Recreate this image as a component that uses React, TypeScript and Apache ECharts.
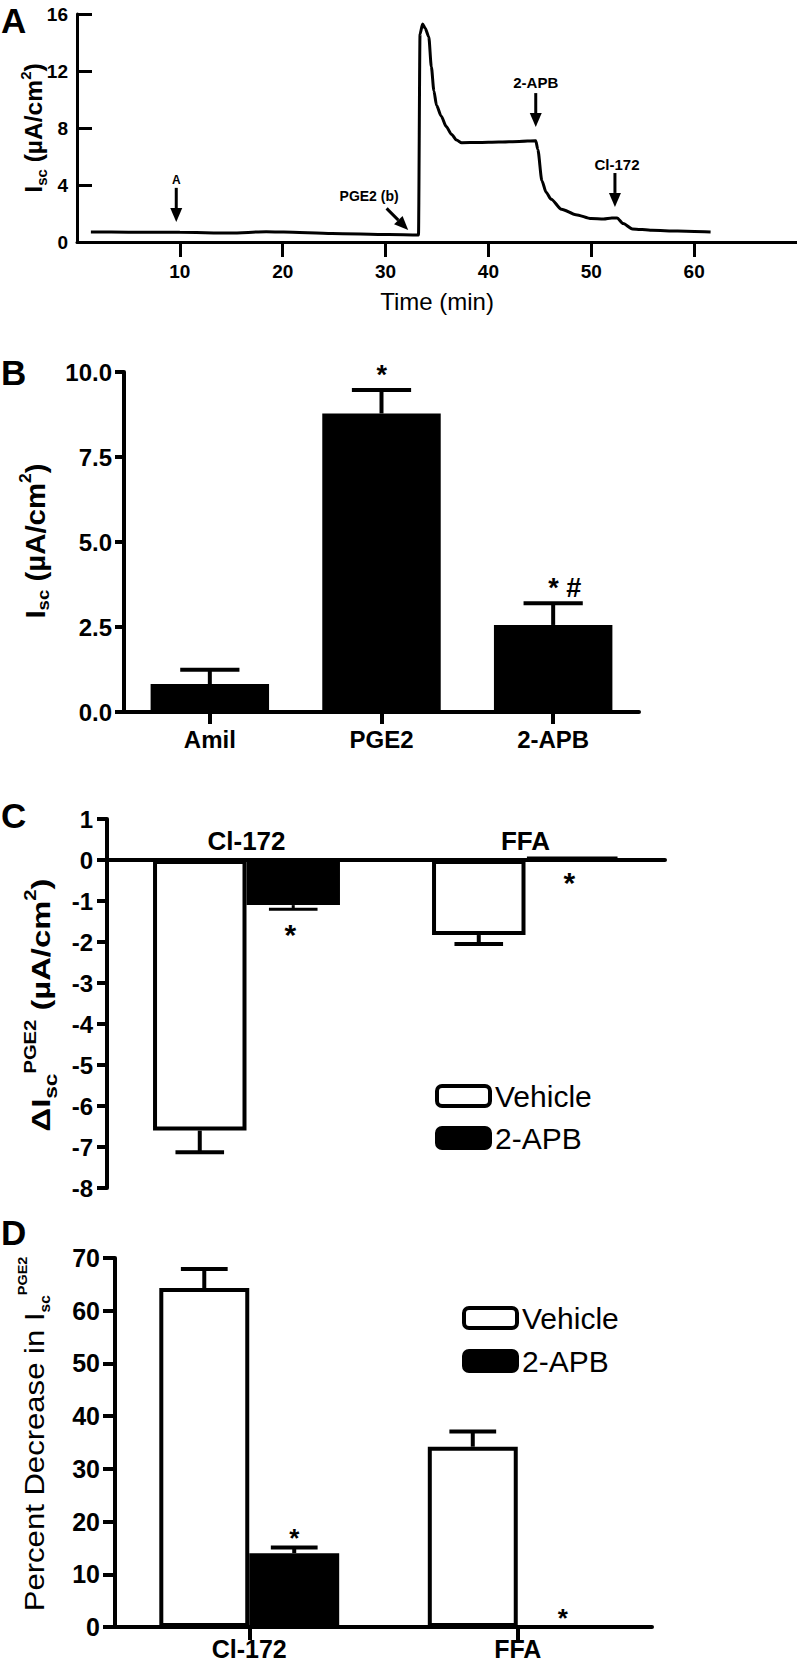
import React, { useEffect, useRef } from 'react';
import * as echarts from 'echarts';

const FONT = '"Liberation Sans", Arial, Helvetica, sans-serif';

// ---------- Panel A: Isc trace ----------
const traceTime = [1.35, 5, 10, 14.9, 18.4, 20.1, 24.8, 30.3, 33.2, 33.35, 33.6, 33.85, 34.2, 34.45, 34.7, 34.95, 35.4, 35.9, 36.4, 36.9, 37.4, 39, 41, 43, 44.6, 44.8, 45.2, 45.6, 46.1, 47.1, 48.5, 50.0, 51.2, 52.0, 52.5, 53.1, 54.0, 55.9, 58.4, 61.6];
const traceIsc = [0.70, 0.69, 0.68, 0.63, 0.72, 0.70, 0.60, 0.52, 0.49, 14.6, 15.3, 15.0, 14.4, 12.3, 10.6, 9.6, 8.85, 8.1, 7.56, 7.15, 6.97, 6.98, 7.02, 7.06, 7.1, 6.5, 4.3, 3.5, 3.0, 2.3, 1.92, 1.65, 1.62, 1.69, 1.69, 1.29, 0.92, 0.82, 0.77, 0.70];
const timeTicks = [10, 20, 30, 40, 50, 60];
const arrowLabels = ['A', 'PGE2 (b)', '2-APB', 'Cl-172'];
const arrowFrom = [[9.65, 3.8], [30.1, 2.36], [44.6, 10.45], [52.3, 4.84]];
const arrowTo = [[9.65, 1.4], [32.2, 0.84], [44.6, 8.07], [52.3, 2.46]];
const arrowLabelAt = [[9.65, 4.35], [28.4, 3.23], [44.6, 11.2], [52.5, 5.47]];

// ---------- Panel B ----------
const bCategories = ['Amil', 'PGE2', '2-APB'];
const bMean = [0.82, 8.78, 2.56];
const bSem = [0.42, 0.69, 0.64];
const bMarks = ['', '*', '* #'];

// ---------- Panels C & D ----------
const groupCategories = ['Cl-172', 'FFA'];
const cVehicleMean = [-6.6, -1.83];
const cVehicleSem = [0.53, 0.22];
const cApbMean = [-1.1, 0.07];
const cApbSem = [0.1, 0];
const cApbMarks = ['*', '*'];

const dVehicleMean = [64.3, 34.2];
const dVehicleSem = [3.6, 2.9];
const dApbMean = [14.0, 0];
const dApbSem = [1.1, 0];
const dApbMarks = ['*', '*'];

const legendNames = ['Vehicle', '2-APB'];

type ErrCfg = {
  nBars: number; slot: number; gap: number; capFrac: number; lw: number;
  markBelow: boolean; markGap: number; markSize: number; markAlign: string; markDx: number;
};

function errorRenderer(means: number[], sems: number[], marks: string[], cfg: ErrCfg) {
  return (params: any, api: any) => {
    const i = params.dataIndex;
    const cat = api.value(0);
    const band = api.size([1, 0])[0];
    const barW = (band * (1 - cfg.gap)) / cfg.nBars;
    const cx = api.coord([cat, 0])[0] + (cfg.slot - (cfg.nBars - 1) / 2) * barW;
    const mean = means[i];
    const sem = sems[i];
    const dir = mean < 0 ? -1 : 1;
    const yBar = api.coord([cat, mean])[1];
    const yEnd = api.coord([cat, mean + dir * sem])[1];
    const half = (barW * cfg.capFrac) / 2;
    const children: any[] = [];
    if (sem > 0) {
      children.push({ type: 'line', shape: { x1: cx, y1: yBar, x2: cx, y2: yEnd }, style: { stroke: '#000', lineWidth: cfg.lw } });
      children.push({ type: 'line', shape: { x1: cx - half, y1: yEnd, x2: cx + half, y2: yEnd }, style: { stroke: '#000', lineWidth: cfg.lw } });
    }
    const mark = marks[i];
    if (mark) {
      const ty = cfg.markBelow ? yEnd + cfg.markGap : yEnd - cfg.markGap;
      children.push({
        type: 'text', x: cx + cfg.markDx, y: ty,
        style: {
          text: mark, fill: '#000', font: `bold ${cfg.markSize}px ${FONT}`,
          align: cfg.markAlign, verticalAlign: 'middle', textAlign: cfg.markAlign, textVerticalAlign: 'middle',
        },
      });
    }
    return { type: 'group', children };
  };
}

// category labels of panel C sit just above the zero line
function zeroLabelRenderer(params: any, api: any) {
  const i = params.dataIndex;
  const p = api.coord([api.value(0), 0]);
  return {
    type: 'text', x: p[0], y: p[1] - 19,
    style: {
      text: groupCategories[i], fill: '#000', font: `bold 26px ${FONT}`,
      align: 'center', verticalAlign: 'middle', textAlign: 'center', textVerticalAlign: 'middle',
    },
  };
}

const annotationFontSizes = [12, 14, 15, 15];

function arrowRenderer(params: any, api: any) {
  const i = params.dataIndex;
  const p0 = api.coord([api.value(0), api.value(1)]);
  const p1 = api.coord([api.value(2), api.value(3)]);
  const pl = api.coord([api.value(4), api.value(5)]);
  const dx = p1[0] - p0[0];
  const dy = p1[1] - p0[1];
  const len = Math.hypot(dx, dy);
  const ux = dx / len, uy = dy / len;
  const headL = 14, headW = 6;
  const bx = p1[0] - ux * headL, by = p1[1] - uy * headL;
  const px = -uy, py = ux;
  return {
    type: 'group',
    children: [
      { type: 'line', shape: { x1: p0[0], y1: p0[1], x2: bx, y2: by }, style: { stroke: '#000', lineWidth: 3 } },
      { type: 'polygon', shape: { points: [[p1[0], p1[1]], [bx + px * headW, by + py * headW], [bx - px * headW, by - py * headW]] }, style: { fill: '#000' } },
      {
        type: 'text', x: pl[0], y: pl[1],
        style: {
          text: arrowLabels[i], fill: '#000', font: `bold ${annotationFontSizes[i]}px ${FONT}`,
          align: 'center', verticalAlign: 'middle', textAlign: 'center', textVerticalAlign: 'middle',
        },
      },
    ],
  };
}

const axisBase = (w: number) => ({
  axisLine: { show: true, lineStyle: { color: '#000', width: w } },
  splitLine: { show: false },
});

const boldLabel = (size: number, margin: number) => ({
  color: '#000', fontSize: size, fontWeight: 'bold' as const, fontFamily: FONT, margin,
});

function buildOption() {
  const bold = (s: number) => ({ fontSize: s, fontWeight: 'bold', fontFamily: FONT, color: '#000' });
  const center = { align: 'center', verticalAlign: 'middle', textAlign: 'center', textVerticalAlign: 'middle' };
  return {
    animation: false,
    backgroundColor: '#fff',
    textStyle: { fontFamily: FONT },
    grid: [
      { left: 77, top: 14, width: 720, height: 228 },
      { left: 124, top: 372, width: 515, height: 340 },
      { left: 107, top: 819, width: 558, height: 369 },
      { left: 115, top: 1258, width: 537, height: 369 },
    ],
    xAxis: [
      {
        gridIndex: 0, type: 'value', min: 0, max: 70, interval: 10,
        ...axisBase(3),
        axisTick: { show: true, length: 15, lineStyle: { color: '#000', width: 3 }, customValues: timeTicks },
        axisLabel: { ...boldLabel(19, 20), customValues: timeTicks },
        name: 'Time (min)', nameLocation: 'middle', nameGap: 47, nameMoveOverlap: false,
        nameTextStyle: { fontSize: 24, fontFamily: FONT, color: '#000' },
      },
      {
        gridIndex: 1, type: 'category', data: bCategories,
        ...axisBase(4),
        axisTick: { show: true, alignWithLabel: true, length: 12, lineStyle: { color: '#000', width: 4 } },
        axisLabel: boldLabel(24, 15),
      },
      {
        gridIndex: 2, type: 'category', data: groupCategories,
        ...axisBase(4),
        axisTick: { show: false },
        axisLabel: { show: false },
      },
      {
        gridIndex: 3, type: 'category', data: groupCategories,
        ...axisBase(4),
        axisTick: { show: true, alignWithLabel: true, length: 13, lineStyle: { color: '#000', width: 4 } },
        axisLabel: boldLabel(25, 9),
      },
    ],
    yAxis: [
      {
        gridIndex: 0, type: 'value', min: 0, max: 16, interval: 4,
        ...axisBase(3),
        axisTick: { show: true, inside: true, length: 15, lineStyle: { color: '#000', width: 3 } },
        axisLabel: boldLabel(19, 9),
      },
      {
        gridIndex: 1, type: 'value', min: 0, max: 10, interval: 2.5,
        ...axisBase(4),
        axisTick: { show: true, length: 9, lineStyle: { color: '#000', width: 4 } },
        axisLabel: { ...boldLabel(24, 12), formatter: (v: number) => v.toFixed(1) },
      },
      {
        gridIndex: 2, type: 'value', min: -8, max: 1, interval: 1,
        ...axisBase(4),
        axisTick: { show: true, length: 10, lineStyle: { color: '#000', width: 4 } },
        axisLabel: boldLabel(24, 14),
      },
      {
        gridIndex: 3, type: 'value', min: 0, max: 70, interval: 10,
        ...axisBase(4),
        axisTick: { show: true, length: 12, lineStyle: { color: '#000', width: 4 } },
        axisLabel: boldLabel(25, 15),
      },
    ],
    legend: [
      {
        data: legendNames, selectedMode: false, orient: 'vertical', left: 430, top: 1076,
        itemWidth: 53, itemHeight: 20, itemGap: 12,
        itemStyle: { borderWidth: 4, borderColor: '#000' },
        textStyle: { fontSize: 30, fontFamily: FONT, color: '#000', lineHeight: 30 },
      },
      {
        data: legendNames, selectedMode: false, orient: 'vertical', left: 457, top: 1298,
        itemWidth: 53, itemHeight: 20, itemGap: 13,
        itemStyle: { borderWidth: 4, borderColor: '#000' },
        textStyle: { fontSize: 30, fontFamily: FONT, color: '#000', lineHeight: 30 },
      },
    ],
    series: [
      {
        type: 'line', xAxisIndex: 0, yAxisIndex: 0,
        data: traceTime.map((t, i) => [t, traceIsc[i]]),
        showSymbol: false, smooth: 0.25, smoothMonotone: 'x',
        lineStyle: { color: '#000', width: 3 }, itemStyle: { color: '#000' },
      },
      {
        type: 'custom', xAxisIndex: 0, yAxisIndex: 0,
        data: arrowFrom.map((f, i) => [f[0], f[1], arrowTo[i][0], arrowTo[i][1], arrowLabelAt[i][0], arrowLabelAt[i][1]]),
        encode: { x: [0, 2, 4], y: [1, 3, 5] },
        renderItem: arrowRenderer,
      },
      {
        type: 'bar', xAxisIndex: 1, yAxisIndex: 1, data: bMean, barCategoryGap: '31%',
        itemStyle: { color: '#000' },
      },
      {
        type: 'custom', xAxisIndex: 1, yAxisIndex: 1,
        data: bMean.map((m, i) => [i, m]), encode: { x: 0, y: 1 },
        renderItem: errorRenderer(bMean, bSem, bMarks, { nBars: 1, slot: 0, gap: 0.31, capFrac: 0.5, lw: 4, markBelow: false, markGap: 15, markSize: 27, markAlign: 'left', markDx: -5 }),
      },
      {
        name: 'Vehicle', type: 'bar', xAxisIndex: 2, yAxisIndex: 2, data: cVehicleMean,
        barGap: '0%', barCategoryGap: '33%',
        itemStyle: { color: '#fff', borderColor: '#000', borderWidth: 4 },
      },
      {
        name: '2-APB', type: 'bar', xAxisIndex: 2, yAxisIndex: 2, data: cApbMean,
        barGap: '0%', barCategoryGap: '33%',
        itemStyle: { color: '#000', borderColor: '#000', borderWidth: 4 },
      },
      {
        type: 'custom', xAxisIndex: 2, yAxisIndex: 2,
        data: cVehicleMean.map((m, i) => [i, m]), encode: { x: 0, y: 1 },
        renderItem: errorRenderer(cVehicleMean, cVehicleSem, ['', ''], { nBars: 2, slot: 0, gap: 0.33, capFrac: 0.52, lw: 4, markBelow: true, markGap: 25, markSize: 30, markAlign: 'center', markDx: 0 }),
      },
      {
        type: 'custom', xAxisIndex: 2, yAxisIndex: 2,
        data: cApbMean.map((m, i) => [i, m]), encode: { x: 0, y: 1 },
        renderItem: errorRenderer(cApbMean, cApbSem, cApbMarks, { nBars: 2, slot: 1, gap: 0.33, capFrac: 0.52, lw: 3, markBelow: true, markGap: 25, markSize: 30, markAlign: 'center', markDx: -3 }),
      },
      {
        type: 'custom', xAxisIndex: 2, yAxisIndex: 2,
        data: groupCategories.map((_, i) => [i, 0]), encode: { x: 0, y: 1 },
        renderItem: zeroLabelRenderer,
      },
      {
        name: 'Vehicle', type: 'bar', xAxisIndex: 3, yAxisIndex: 3, data: dVehicleMean,
        barGap: '0%', barCategoryGap: '33%',
        itemStyle: { color: '#fff', borderColor: '#000', borderWidth: 4 },
      },
      {
        name: '2-APB', type: 'bar', xAxisIndex: 3, yAxisIndex: 3, data: dApbMean,
        barGap: '0%', barCategoryGap: '33%',
        itemStyle: { color: '#000', borderColor: '#000', borderWidth: 4 },
      },
      {
        type: 'custom', xAxisIndex: 3, yAxisIndex: 3,
        data: dVehicleMean.map((m, i) => [i, m]), encode: { x: 0, y: 1 },
        renderItem: errorRenderer(dVehicleMean, dVehicleSem, ['', ''], { nBars: 2, slot: 0, gap: 0.33, capFrac: 0.52, lw: 4, markBelow: false, markGap: 9, markSize: 26, markAlign: 'center', markDx: 0 }),
      },
      {
        type: 'custom', xAxisIndex: 3, yAxisIndex: 3,
        data: dApbMean.map((m, i) => [i, m]), encode: { x: 0, y: 1 },
        renderItem: errorRenderer(dApbMean, dApbSem, dApbMarks, { nBars: 2, slot: 1, gap: 0.33, capFrac: 0.52, lw: 4, markBelow: false, markGap: 9, markSize: 26, markAlign: 'center', markDx: 0 }),
      },
    ],
    graphic: [
      ...[['A', 20], ['B', 372], ['C', 815], ['D', 1232]].map(([t, y]) => ({
        type: 'text', x: 1, y: y as number,
        style: { text: t as string, fill: '#000', font: `bold 35px ${FONT}`, verticalAlign: 'middle', textVerticalAlign: 'middle' },
      })),
      {
        type: 'text', x: 34, y: 128, rotation: Math.PI / 2, scaleX: 1.07,
        style: {
          text: '{m|I}{s|sc}{m| (µA/cm}{p|2}{m|)}', ...center,
          rich: {
            m: { ...bold(23), lineHeight: 30 },
            s: { ...bold(14), lineHeight: 14, verticalAlign: 'bottom' },
            p: { ...bold(14), lineHeight: 14, verticalAlign: 'top' },
          },
        },
      },
      {
        type: 'text', x: 35, y: 541, rotation: Math.PI / 2, scaleX: 1.09,
        style: {
          text: '{m|I}{s|sc}{m| (µA/cm}{p|2}{m|)}', ...center,
          rich: {
            m: { ...bold(27), lineHeight: 34 },
            s: { ...bold(17), lineHeight: 17, verticalAlign: 'bottom' },
            p: { ...bold(16), lineHeight: 16, verticalAlign: 'top' },
          },
        },
      },
      {
        type: 'text', x: 41, y: 1005, rotation: Math.PI / 2, scaleX: 1.26,
        style: {
          text: '{m|ΔI}{s|sc}{p|PGE2}{m| (µA/cm}{p|2}{m|)}', ...center,
          rich: {
            m: { ...bold(26), lineHeight: 36 },
            s: { ...bold(18), lineHeight: 18, verticalAlign: 'bottom' },
            p: { ...bold(16), lineHeight: 16, verticalAlign: 'top' },
          },
        },
      },
      {
        type: 'text', x: 34, y: 1434, rotation: Math.PI / 2, scaleX: 1.11,
        style: {
          text: '{m|Percent Decrease in I}{s|sc}{p|PGE2}', ...center,
          rich: {
            m: { fontSize: 28, fontFamily: FONT, color: '#000', lineHeight: 36 },
            s: { ...bold(14), lineHeight: 14, verticalAlign: 'bottom' },
            p: { ...bold(13), lineHeight: 13, verticalAlign: 'top' },
          },
        },
      },
    ],
  };
}

export default function App() {
  const ref = useRef<HTMLDivElement>(null);
  useEffect(() => {
    if (!ref.current) return;
    const chart = echarts.init(ref.current, undefined, { renderer: 'svg' });
    chart.setOption(buildOption() as any);
    return () => chart.dispose();
  }, []);
  return (
    <div
      ref={ref}
      style={{ position: 'absolute', left: 0, top: 0, width: 797, height: 1665, background: '#fff' }}
    />
  );
}
